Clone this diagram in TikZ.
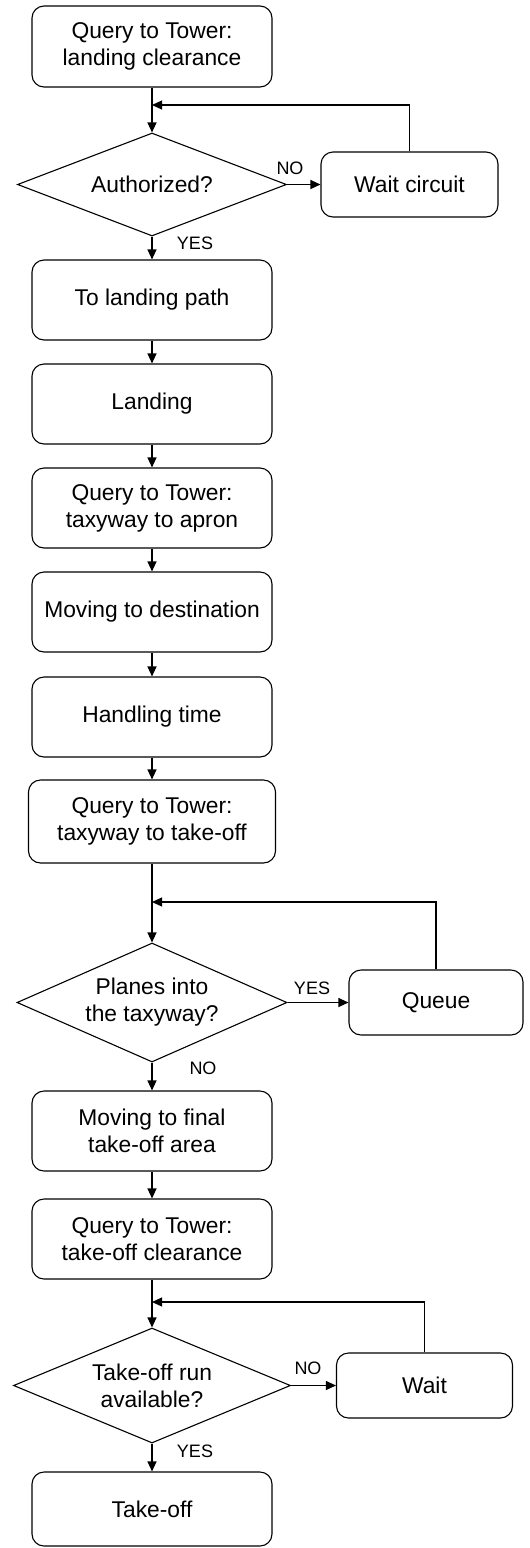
\documentclass[tikz,border=0pt]{standalone}
\usepackage{fontspec}
\setmainfont{Liberation Sans}
\usetikzlibrary{arrows.meta,shapes.geometric}
\begin{document}
\begin{tikzpicture}[x=1pt,y=-1pt,
  every node/.style={font=\fontsize{22.8}{27}\selectfont, text=black},
  procbox/.style={draw=black, line width=1.1pt, rounded corners=12pt, align=center, inner sep=0pt},
  decision/.style={draw=black, line width=1.1pt, diamond, align=center, inner sep=0pt},
  lbl/.style={font=\fontsize{18}{20}\selectfont, inner sep=0pt},
  arr/.style={draw=black, line width=1.1pt, -{Triangle[length=10pt,width=9pt]}},
  ln/.style={draw=black, line width=1.1pt}]
\useasboundingbox[fill=white] (0,0) rectangle (530,1548);

\node[procbox, minimum width=240pt, minimum height=81pt] (b1) at (152,46.5) {Query to Tower:\\landing clearance};
\node[decision, aspect=2.61, minimum width=269pt, minimum height=103pt] (d1) at (152,184.5) {Authorized?};
\node[procbox, minimum width=177pt, minimum height=65pt] (w1) at (409.5,184.5) {Wait circuit};
\coordinate (j1) at (152,105);

\node[procbox, minimum width=240pt, minimum height=80pt] (b2) at (152,300) {To landing path};
\node[procbox, minimum width=240pt, minimum height=80pt] (b3) at (152,404) {Landing};
\node[procbox, minimum width=240pt, minimum height=80pt] (b4) at (152,508) {Query to Tower:\\taxyway to apron};
\node[procbox, minimum width=240pt, minimum height=80pt] (b5) at (152,612) {Moving to destination};
\node[procbox, minimum width=240pt, minimum height=80pt] (b6) at (152,717) {Handling time};
\node[procbox, minimum width=247pt, minimum height=83pt] (b7) at (152,821.5) {Query to Tower:\\taxyway to take-off};

\coordinate (j2) at (152,902);
\node[decision, aspect=2.27, minimum width=270pt, minimum height=119pt] (d2) at (152,1002.5) {Planes into\\the taxyway?};
\node[procbox, minimum width=174pt, minimum height=65pt] (q) at (436,1002.5) {Queue};

\node[procbox, minimum width=240pt, minimum height=80pt] (b8) at (152,1131) {Moving to final\\take-off area};
\node[procbox, minimum width=240pt, minimum height=80pt] (b9) at (152,1239) {Query to Tower:\\take-off clearance};

\coordinate (j3) at (152,1302);
\node[decision, aspect=2.41, minimum width=277pt, minimum height=115pt] (d3) at (152,1385.5) {Take-off run\\available?};
\node[procbox, minimum width=176pt, minimum height=65pt] (w3) at (424.5,1385.5) {Wait};

\node[procbox, minimum width=240pt, minimum height=74pt] (b10) at (152,1509) {Take-off};

% connectors
\draw[arr] (b1.south) -- (d1.north);
\draw[arr] (d1.east) -- (w1.west);
\draw[arr] (w1.north) |- (j1);
\draw[arr] (d1.south) -- (b2.north);
\draw[arr] (b2.south) -- (b3.north);
\draw[arr] (b3.south) -- (b4.north);
\draw[arr] (b4.south) -- (b5.north);
\draw[arr] (b5.south) -- (b6.north);
\draw[arr] (b6.south) -- (b7.north);
\draw[arr] (b7.south) -- (d2.north);
\draw[arr] (d2.east) -- (q.west);
\draw[arr] (q.north) |- (j2);
\draw[arr] (d2.south) -- (b8.north);
\draw[arr] (b8.south) -- (b9.north);
\draw[arr] (b9.south) -- (d3.north);
\draw[arr] (d3.east) -- (w3.west);
\draw[arr] (w3.north) |- (j3);
\draw[arr] (d3.south) -- (b10.north);

% labels
\node[lbl] (l1) at (290,168) {NO};
\node[lbl] (l2) at (195,243.5) {YES};
\node[lbl] (l3) at (312,988) {YES};
\node[lbl] (l4) at (203,1068) {NO};
\node[lbl] (l5) at (308,1368) {NO};
\node[lbl] (l6) at (195,1451.5) {YES};
\end{tikzpicture}
\end{document}
